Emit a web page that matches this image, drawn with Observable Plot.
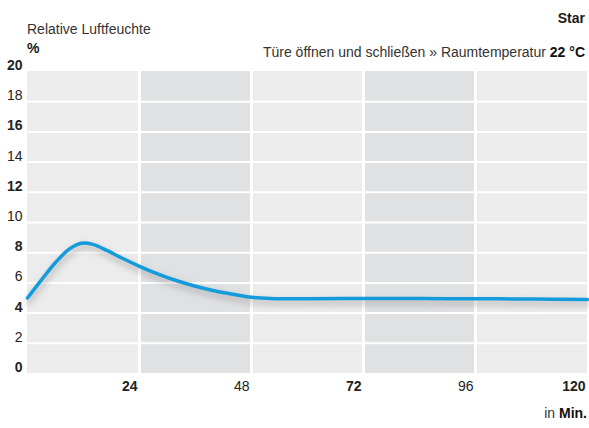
<!DOCTYPE html>
<html><head><meta charset="utf-8">
<script src="https://cdn.jsdelivr.net/npm/d3@7"></script>
<script src="https://cdn.jsdelivr.net/npm/@observablehq/plot@0.6"></script>
<style>
body{margin:0;background:#fff;}
#wrap{position:relative;width:589px;height:428px;font-family:"Liberation Sans",Arial,sans-serif;color:#1a1a1a;}
.t{position:absolute;white-space:nowrap;line-height:1;}
b{font-weight:bold;}
</style></head>
<body><div id="wrap">
<div class="t" style="left:27px;top:22px;font-size:14px;color:#333;">Relative Luftfeuchte</div>
<div class="t" style="left:27px;top:41px;font-size:14px;font-weight:bold;">%</div>
<div class="t" style="right:4px;top:11px;font-size:14px;font-weight:bold;">Star</div>
<div class="t" style="right:4px;top:45px;font-size:14px;color:#333;">Türe öffnen und schließen » Raumtemperatur <b style="color:#111">22 °C</b></div>
<div class="t" style="right:2px;top:406px;font-size:14px;color:#333;">in <b style="color:#111">Min.</b></div>
</div>
<script>
const minutes = [0, 3, 6, 9, 11.5, 14, 17, 20, 24, 28, 32, 36, 40, 44, 48, 52, 60, 72, 84, 96, 108, 120];
const humidity = [5.0, 6.2, 7.35, 8.25, 8.63, 8.55, 8.15, 7.68, 7.1, 6.58, 6.14, 5.78, 5.48, 5.25, 5.05, 4.97, 4.95, 4.97, 4.96, 4.95, 4.93, 4.9];
const xTicks = [24, 48, 72, 96, 120];
const xBold = [true, false, true, false, true];
const yTicks = [0, 2, 4, 6, 8, 10, 12, 14, 16, 18, 20];
const yBold = [true, false, true, false, true, false, true, false, true, false, true];
const bandStarts = [24, 72];
const bandEnds = [48, 96];

const data = minutes.map((m, i) => ({m, h: humidity[i]}));
const bands = bandStarts.map((s, i) => ({x1: s, x2: bandEnds[i]}));
const xt = xTicks.map((v, i) => ({v, b: xBold[i]}));
const yt = yTicks.map((v, i) => ({v, b: yBold[i]}));
const tickFont = {fontSize: 14, fill: "#222"};

const chart = Plot.plot({
  width: 589, height: 428,
  marginTop: 71, marginBottom: 55, marginLeft: 27, marginRight: 2,
  style: {fontFamily: '"Liberation Sans", Arial, sans-serif', background: "transparent", overflow: "visible"},
  x: {domain: [0, 120], axis: null},
  y: {domain: [0, 20], axis: null},
  marks: [
    Plot.rect([0], {x1: 0, x2: 120, y1: 0, y2: 20, fill: "#ebeceb"}),
    Plot.rect(bands, {x1: "x1", x2: "x2", y1: 0, y2: 20, fill: "#e0e1e3"}),
    Plot.ruleY(yTicks.filter(v => v > 0 && v < 20), {y: d => d, stroke: "#fff", strokeWidth: 2}),
    Plot.ruleX(xTicks.filter(v => v < 120), {x: d => d, stroke: "#fff", strokeWidth: 3}),
    Plot.line(data, {x: "m", y: "h", curve: "catmull-rom", stroke: "#7a7a7a", strokeWidth: 6, strokeOpacity: 0.35, dy: 4, dx: 1, className: "shadow"}),
    Plot.line(data, {x: "m", y: "h", curve: "catmull-rom", stroke: "#149bdc", strokeWidth: 3.5}),
    Plot.text(yt.filter(d => d.b), {x: () => 0, y: "v", text: d => String(d.v), textAnchor: "end", dx: -5, dy: -6, fontWeight: "bold", ...tickFont}),
    Plot.text(yt.filter(d => !d.b), {x: () => 0, y: "v", text: d => String(d.v), textAnchor: "end", dx: -5, dy: -6, fontWeight: "normal", ...tickFont}),
    Plot.text(xt.filter(d => d.b), {x: "v", y: () => 0, text: d => String(d.v), textAnchor: "end", dx: -2, dy: 13, fontWeight: "bold", ...tickFont}),
    Plot.text(xt.filter(d => !d.b), {x: "v", y: () => 0, text: d => String(d.v), textAnchor: "end", dx: -2, dy: 13, fontWeight: "normal", ...tickFont})
  ]
});
chart.style.position = "absolute";
chart.style.left = "0px";
chart.style.top = "0px";
document.getElementById("wrap").prepend(chart);
const svg = d3.select(chart);
const defs = svg.insert("defs", ":first-child");
defs.append("filter").attr("id", "blurf").attr("x", "-10%").attr("y", "-50%").attr("width", "120%").attr("height", "200%")
  .append("feGaussianBlur").attr("stdDeviation", 3);
svg.selectAll("g.shadow").attr("filter", "url(#blurf)");
</script>
</body></html>
